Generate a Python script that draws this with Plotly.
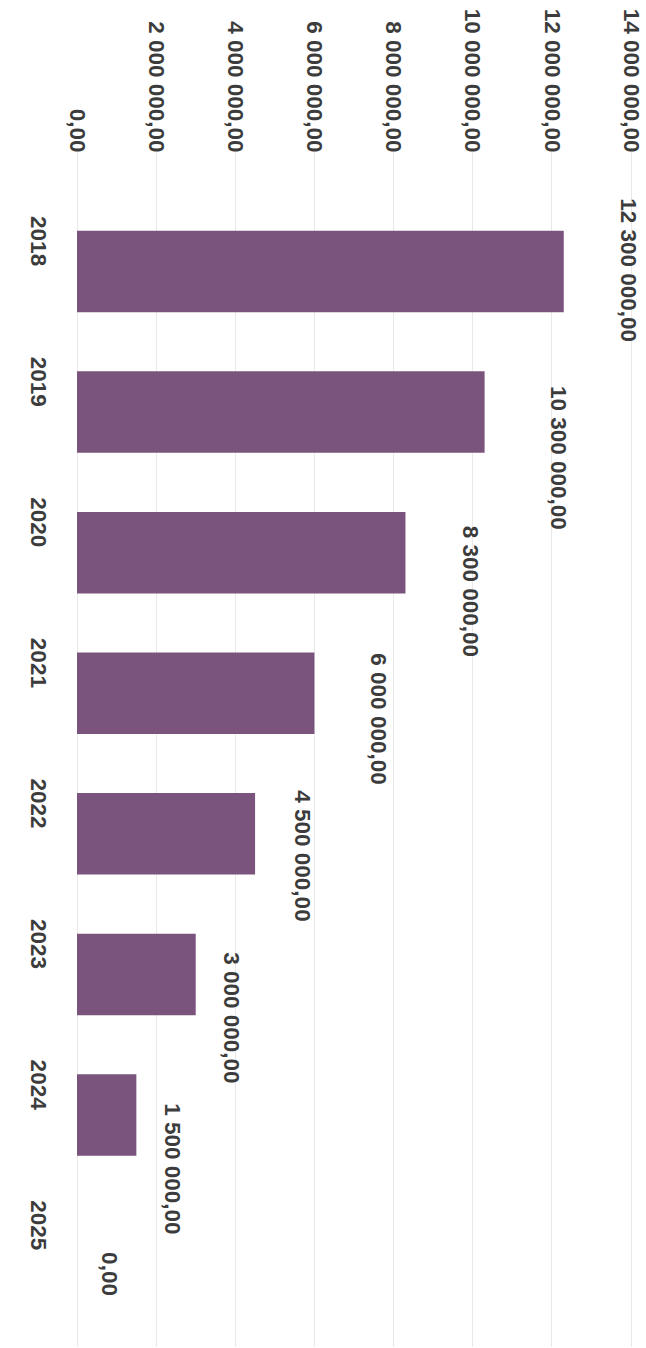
import plotly.graph_objects as go

# ---- data ----
years = ["2018", "2019", "2020", "2021", "2022", "2023", "2024", "2025"]
values = [12300000, 10300000, 8300000, 6000000, 4500000, 3000000, 1500000, 0]
value_ticks = [0, 2000000, 4000000, 6000000, 8000000, 10000000, 12000000, 14000000]

# ---- style ----
BAR = "#7b547e"
TXT = "#3c3c3c"
FONT = "Liberation Sans"
FS = 22.5
# label nudges (pixels) to follow the scanned layout
label_dx = [50, 60, 50, 50, 33, 21, 22, 18]
label_dy = [-1, 46, 39, 26, 22, 43, 54, 18]


def fmt(v):
    s = f"{v:,.2f}"
    return s.replace(",", " ").replace(".", ",")


fig = go.Figure()
fig.add_trace(go.Bar(
    x=values, y=years, orientation="h",
    marker=dict(color=BAR, line=dict(width=0)),
    hoverinfo="skip",
))

for i, (yr, v) in enumerate(zip(years, values)):
    fig.add_annotation(
        x=v, y=i, xref="x", yref="y",
        text=fmt(v), showarrow=False, textangle=90,
        xanchor="left", yanchor="middle",
        xshift=label_dx[i], yshift=-label_dy[i],
        font=dict(family=FONT, size=FS, color=TXT, weight="bold"),
    )

fig.update_layout(
    width=646, height=1348,
    margin=dict(l=77, r=13, t=152, b=1),
    paper_bgcolor="white", plot_bgcolor="white",
    separators=", ",
    bargap=0.42,
    showlegend=False,
    font=dict(family=FONT, size=FS, color=TXT),
)
fig.update_xaxes(
    side="top", range=[0, 14050000], automargin=False,
    tickvals=value_ticks, tickformat=",.2f", tickangle=90,
    tickfont=dict(family=FONT, size=FS, color=TXT, weight="bold"),
    showgrid=True, gridcolor="#e9e9e9", gridwidth=1,
    zeroline=True, zerolinecolor="#e9e9e9", zerolinewidth=1,
    showline=False, ticks="", ticklabelstandoff=-5,
    ticklabeloverflow="allow",
)
fig.update_yaxes(
    type="category", categoryorder="array", categoryarray=years,
    range=[7.65, -0.85], automargin=False,
    tickangle=90,
    tickfont=dict(family=FONT, size=FS, color=TXT, weight="bold"),
    showgrid=False, zeroline=False, showline=False, ticks="",
    ticklabelstandoff=23, ticklabelshift=27,
    ticklabeloverflow="allow",
)

fig.write_html(
    "out.html",
    config={"displayModeBar": False},
    post_script="document.body.style.margin='0';document.body.style.overflow='hidden';",
)
